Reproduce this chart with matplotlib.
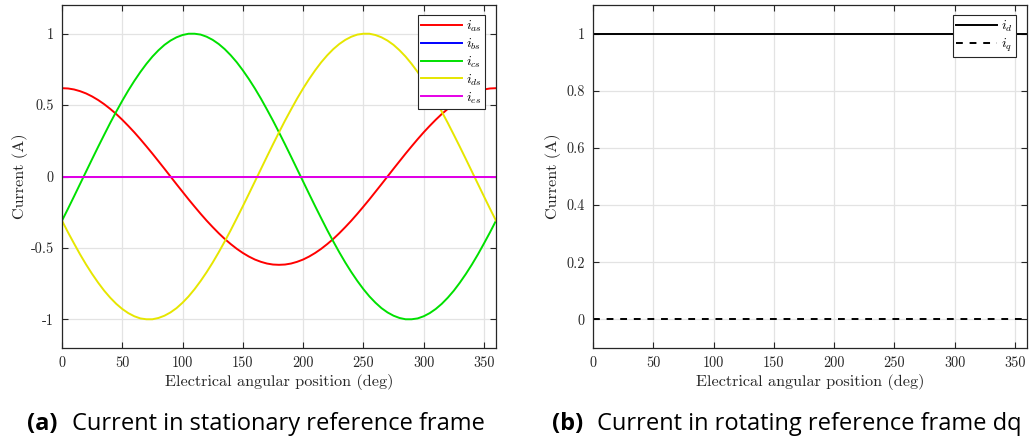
import matplotlib
matplotlib.use("Agg")
import matplotlib.pyplot as plt

# ---------------- data ----------------
angle_deg = [0, 5, 10, 15, 20, 25, 30, 35, 40, 45, 50, 55, 60, 65, 70, 75, 80, 85, 90,
             95, 100, 105, 110, 115, 120, 125, 130, 135, 140, 145, 150, 155, 160, 165, 170, 175, 180,
             185, 190, 195, 200, 205, 210, 215, 220, 225, 230, 235, 240, 245, 250, 255, 260, 265, 270,
             275, 280, 285, 290, 295, 300, 305, 310, 315, 320, 325, 330, 335, 340, 345, 350, 355, 360]

i_as = [0.618, 0.616, 0.609, 0.597, 0.581, 0.560, 0.535, 0.506, 0.473, 0.437, 0.397, 0.354, 0.309,
        0.261, 0.211, 0.160, 0.107, 0.054, 0.000,
        -0.054, -0.107, -0.160, -0.211, -0.261, -0.309, -0.354, -0.397, -0.437, -0.473, -0.506,
        -0.535, -0.560, -0.581, -0.597, -0.609, -0.616, -0.618,
        -0.616, -0.609, -0.597, -0.581, -0.560, -0.535, -0.506, -0.473, -0.437, -0.397, -0.354,
        -0.309, -0.261, -0.211, -0.160, -0.107, -0.054, 0.000,
        0.054, 0.107, 0.160, 0.211, 0.261, 0.309, 0.354, 0.397, 0.437, 0.473, 0.506,
        0.535, 0.560, 0.581, 0.597, 0.609, 0.616, 0.618]
i_bs = [0.0] * 73
i_cs = [-0.309, -0.225, -0.139, -0.052, 0.035, 0.122, 0.208, 0.292, 0.375, 0.454, 0.530, 0.602,
        0.669, 0.731, 0.788, 0.839, 0.883, 0.921, 0.951, 0.974, 0.990, 0.999, 0.999, 0.993,
        0.978, 0.956, 0.927, 0.891, 0.848, 0.799, 0.743, 0.682, 0.616, 0.545, 0.469, 0.391,
        0.309, 0.225, 0.139, 0.052, -0.035, -0.122, -0.208, -0.292, -0.375, -0.454, -0.530,
        -0.602, -0.669, -0.731, -0.788, -0.839, -0.883, -0.921, -0.951, -0.974, -0.990, -0.999,
        -0.999, -0.993, -0.978, -0.956, -0.927, -0.891, -0.848, -0.799, -0.743, -0.682, -0.616,
        -0.545, -0.469, -0.391, -0.309]
i_ds = [-0.309, -0.391, -0.469, -0.545, -0.616, -0.682, -0.743, -0.799, -0.848, -0.891, -0.927,
        -0.956, -0.978, -0.993, -0.999, -0.999, -0.990, -0.974, -0.951, -0.921, -0.883, -0.839,
        -0.788, -0.731, -0.669, -0.602, -0.530, -0.454, -0.375, -0.292, -0.208, -0.122, -0.035,
        0.052, 0.139, 0.225, 0.309, 0.391, 0.469, 0.545, 0.616, 0.682, 0.743, 0.799, 0.848,
        0.891, 0.927, 0.956, 0.978, 0.993, 0.999, 0.999, 0.990, 0.974, 0.951, 0.921, 0.883,
        0.839, 0.788, 0.731, 0.669, 0.602, 0.530, 0.454, 0.375, 0.292, 0.208, 0.122, 0.035,
        -0.052, -0.139, -0.225, -0.309]
i_es = [0.0] * 73

i_d = [1.0] * 73
i_q = [0.0] * 73

labels_abc = [r"$i_{as}$", r"$i_{bs}$", r"$i_{cs}$", r"$i_{ds}$", r"$i_{es}$"]
labels_dq = [r"$i_{d}$", r"$i_{q}$"]

xticks = [0, 50, 100, 150, 200, 250, 300, 350]
xticklabels = ["0", "50", "100", "150", "200", "250", "300", "350"]
yticks_a = [-1, -0.5, 0, 0.5, 1]
yticklabels_a = ["-1", "-0.5", "0", "0.5", "1"]
yticks_b = [0, 0.2, 0.4, 0.6, 0.8, 1]
yticklabels_b = ["0", "0.2", "0.4", "0.6", "0.8", "1"]

xlabel = "Electrical angular position (deg)"
ylabel = "Current (A)"
caption_a = ("(a)", "Current in stationary reference frame")
caption_b = ("(b)", "Current in rotating reference frame dq")

# ---------------- style ----------------
plt.rcParams["font.family"] = ["cmr10", "DejaVu Serif"]
plt.rcParams["mathtext.fontset"] = "cm"
plt.rcParams["axes.unicode_minus"] = False

W, H = 1029, 443
fig = plt.figure(figsize=(W / 100, H / 100), dpi=100)

def px_axes(x0, x1, y0, y1):
    return fig.add_axes([x0 / W, (H - y1) / H, (x1 - x0) / W, (y1 - y0) / H])

ax1 = px_axes(62, 496, 5, 348)
ax2 = px_axes(593, 1027, 5, 348)

spine_col = "#262626"
def style(ax, ylabelpad):
    ax.grid(True, color="#e3e3e3", linewidth=0.9)
    ax.set_axisbelow(True)
    for s in ax.spines.values():
        s.set_color(spine_col)
        s.set_linewidth(0.9)
    ax.tick_params(direction="in", top=True, right=True, length=4, width=0.8,
                   color=spine_col, labelsize=10.3, pad=6, labelcolor="#262626")
    ax.set_xlim(0, 360)
    ax.set_xticks(xticks)
    ax.set_xticklabels(xticklabels)
    ax.set_xlabel(xlabel, fontsize=11.7, color="#262626", labelpad=3)
    ax.set_ylabel(ylabel, fontsize=11.7, color="#262626", labelpad=ylabelpad)

colors = ["#ff0000", "#0000ff", "#00e000", "#e6e600", "#e600e6"]
series = [i_as, i_bs, i_cs, i_ds, i_es]
for ys, c, lab in zip(series, colors, labels_abc):
    ax1.plot(angle_deg, ys, color=c, linewidth=1.4, label=lab)
style(ax1, 2)
ax1.set_ylim(-1.2, 1.2)
ax1.set_yticks(yticks_a)
ax1.set_yticklabels(yticklabels_a)
leg_kw = dict(fontsize=10, frameon=True, fancybox=False, edgecolor="#262626", framealpha=1,
              handlelength=2.9, handletextpad=0.3, labelspacing=0.18, borderpad=0.25,
              borderaxespad=0)
leg1 = ax1.legend(loc="upper right", bbox_to_anchor=(0.975, 0.97), **leg_kw)
leg1.get_frame().set_linewidth(0.8)

ax2.plot(angle_deg, i_d, color="black", linewidth=1.4, label=labels_dq[0])
ax2.plot(angle_deg, i_q, color="black", linewidth=1.4, linestyle=(0, (3.5, 3.5)), label=labels_dq[1])
style(ax2, 3.5)
ax2.set_ylim(-0.1, 1.1)
ax2.set_yticks(yticks_b)
ax2.set_yticklabels(yticklabels_b)
leg2 = ax2.legend(loc="upper right", bbox_to_anchor=(0.975, 0.97), **leg_kw)
leg2.get_frame().set_linewidth(0.8)

cap_font = ["Open Sans", "DejaVu Sans"]
base_y = (H - 430) / H
fig.text(27 / W, base_y, caption_a[0], fontsize=17, fontweight="bold", family=cap_font, va="baseline")
fig.text(72 / W, base_y, caption_a[1], fontsize=17, family=cap_font, va="baseline")
fig.text(552 / W, base_y, caption_b[0], fontsize=17, fontweight="bold", family=cap_font, va="baseline")
fig.text(597 / W, base_y, caption_b[1], fontsize=17, family=cap_font, va="baseline")

fig.savefig("out.png", dpi=100)
